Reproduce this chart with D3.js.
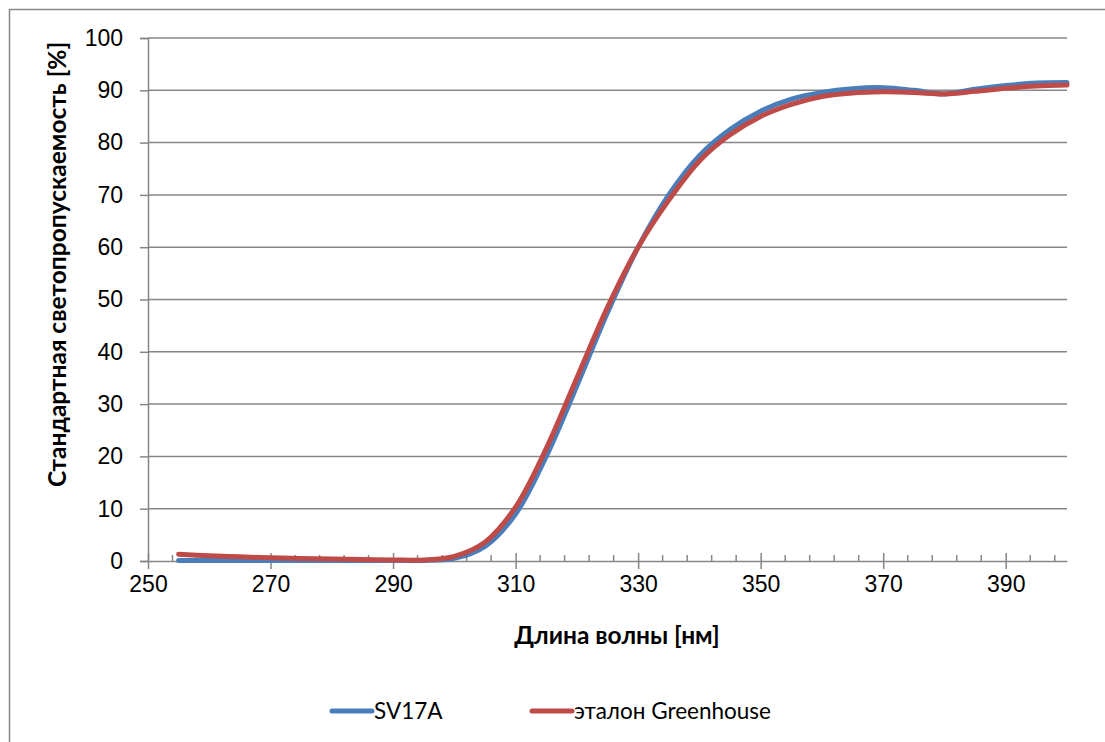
<!DOCTYPE html>
<meta charset="utf-8">
<style>
  body { margin: 0; background: #fff; }
  svg { font-family: Lato, "Open Sans", sans-serif; }
  .grid line { stroke: #868686; stroke-width: 1.5; }
  .frame { fill: none; stroke: #868686; stroke-width: 1.5; }
  .tick text { fill: #000; }
</style>
<body>
<script src="https://cdn.jsdelivr.net/npm/d3@7"></script>
<script>
  // wavelengths, nm
  var wavelengths = [255, 260, 265, 270, 275, 280, 285, 290, 295, 300, 305, 310, 315, 320, 325,
    330, 335, 340, 345, 350, 355, 360, 365, 370, 375, 380, 385, 390, 395, 400];

  // SV17A
  var sv17a = [0.1, 0.1, 0.1, 0.1, 0.1, 0.1, 0.1, 0.1, 0.1, 0.5, 2.8, 9.0, 20.0, 33.5, 47.5,
    60.0, 70.0, 77.5, 82.5, 86.0, 88.3, 89.6, 90.3, 90.5, 90.0, 89.3, 90.2, 90.9, 91.4, 91.5];

  // эталон Greenhouse
  var greenhouse = [1.3, 1.0, 0.8, 0.6, 0.5, 0.4, 0.3, 0.2, 0.2, 0.9, 3.6, 10.3, 21.5, 35.0, 48.5,
    60.0, 69.0, 76.5, 81.5, 85.0, 87.3, 88.8, 89.5, 89.7, 89.6, 89.3, 89.8, 90.4, 90.8, 91.0];

  var seriesNames = ["SV17A", "эталон Greenhouse"];
  var seriesColors = ["#4a7ebb", "#be4b48"];
  var xTicks = [250, 270, 290, 310, 330, 350, 370, 390];
  var yTicks = [0, 10, 20, 30, 40, 50, 60, 70, 80, 90, 100];

  var width = 1105, height = 742;
  // plot area
  var pLeft = 148, pRight = 1067, pTop = 38, pBottom = 561;

  var svg = d3.select("body").append("svg")
    .attr("width", width)
    .attr("height", height);

  svg.append("rect").attr("width", width).attr("height", height).attr("fill", "#fff");

  // chart frame, runs off the right and bottom
  svg.append("rect")
    .attr("class", "frame")
    .attr("x", 9.5)
    .attr("y", 9.5)
    .attr("width", 1200)
    .attr("height", 900);

  var x = d3.scaleLinear().domain([250, 400]).range([pLeft, pRight]);
  var y = d3.scaleLinear().domain([0, 100]).range([pBottom, pTop]);

  // horizontal gridlines
  svg.append("g")
    .attr("class", "grid")
    .selectAll("line")
    .data(yTicks.slice(1))
    .enter().append("line")
    .attr("x1", pLeft).attr("x2", pRight)
    .attr("y1", function (d) { return y(d); })
    .attr("y2", function (d) { return y(d); });

  // y axis
  var yAxis = d3.axisLeft(y).tickValues(yTicks).tickSize(8).tickPadding(17);
  var gy = svg.append("g")
    .attr("transform", "translate(" + pLeft + ",0)")
    .call(yAxis);
  gy.select(".domain").attr("stroke", "#868686").attr("stroke-width", 1.5);
  gy.selectAll(".tick line").attr("stroke", "#868686").attr("stroke-width", 1.5);
  gy.selectAll(".tick text").attr("font-size", 23);

  // x axis: minor ticks inside, major ticks crossing
  var minor = d3.range(254, 400, 4).filter(function (d) { return (d - 250) % 20 !== 0; });
  svg.append("g")
    .selectAll("line")
    .data(minor)
    .enter().append("line")
    .attr("x1", function (d) { return x(d); })
    .attr("x2", function (d) { return x(d); })
    .attr("y1", pBottom - 6).attr("y2", pBottom)
    .attr("stroke", "#868686").attr("stroke-width", 1.5);

  var xAxis = d3.axisBottom(x).tickValues(xTicks).tickSize(8).tickPadding(7).tickSizeOuter(0);
  var gx = svg.append("g")
    .attr("transform", "translate(0," + pBottom + ")")
    .call(xAxis);
  gx.select(".domain").attr("stroke", "#868686").attr("stroke-width", 1.5);
  gx.selectAll(".tick line").attr("stroke", "#868686").attr("stroke-width", 1.5).attr("y1", -8);
  gx.selectAll(".tick text").attr("font-size", 23);

  // lines
  var line = d3.line()
    .x(function (d) { return x(d[0]); })
    .y(function (d) { return y(d[1]); })
    .curve(d3.curveCatmullRom);

  [sv17a, greenhouse].forEach(function (vals, i) {
    svg.append("path")
      .datum(wavelengths.map(function (w, k) { return [w, vals[k]]; }))
      .attr("fill", "none")
      .attr("stroke", seriesColors[i])
      .attr("stroke-width", 5)
      .attr("stroke-linejoin", "round")
      .attr("stroke-linecap", "round")
      .attr("d", line);
  });

  // axis titles
  svg.append("text")
    .attr("x", 617)
    .attr("y", 644)
    .attr("text-anchor", "middle")
    .attr("font-weight", "bold")
    .attr("font-size", 24.5)
    .text("Длина волны [нм]");

  svg.append("text")
    .attr("transform", "translate(66," + ((pTop + pBottom) / 2 - 35) + ") rotate(-90)")
    .attr("text-anchor", "middle")
    .attr("font-weight", "bold")
    .attr("font-size", 24.5)
    .text("Стандартная светопропускаемость [%]");

  // legend
  var legendX = [330, 530];
  var lg = svg.append("g").selectAll("g")
    .data(seriesNames)
    .enter().append("g")
    .attr("transform", function (d, i) { return "translate(" + legendX[i] + ",711)"; });
  lg.append("line")
    .attr("x1", 2).attr("x2", 42)
    .attr("stroke", function (d, i) { return seriesColors[i]; })
    .attr("stroke-width", 5)
    .attr("stroke-linecap", "round");
  lg.append("text")
    .attr("x", 44)
    .attr("dy", "0.35em")
    .attr("font-size", 22.5)
    .text(function (d) { return d; });
</script>
</body>
